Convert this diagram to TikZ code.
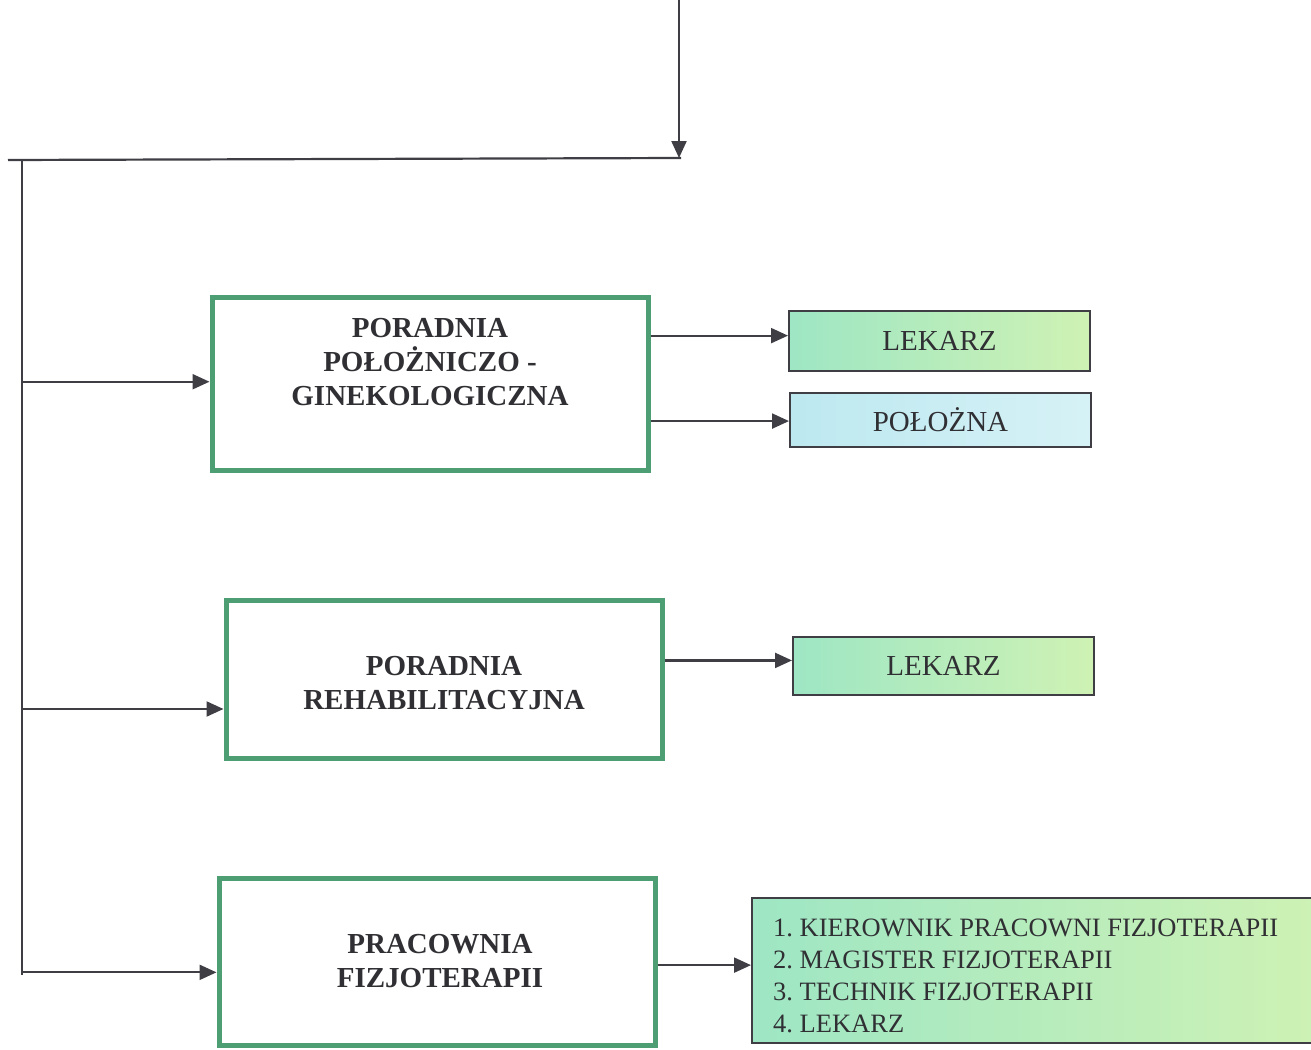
\documentclass[tikz,border=0pt]{standalone}
\usepackage{fontspec}
\setmainfont{Liberation Serif}
\usetikzlibrary{arrows.meta,calc}
\definecolor{boxgreen}{HTML}{4E9E74}
\definecolor{linegray}{HTML}{3E3E44}
\definecolor{txtgray}{HTML}{303034}
\definecolor{mintA}{HTML}{9EE6C4}
\definecolor{mintB}{HTML}{CFF2B4}
\definecolor{blueA}{HTML}{BDE8F0}
\definecolor{blueB}{HTML}{D6F2F6}
\tikzset{
  conn/.style={draw=linegray, line width=2.2pt},
  arr/.style={conn, -{Triangle[length=17pt,width=15pt]}},
  unitbox/.style={draw=boxgreen, line width=5pt, fill=white, minimum width=436pt, inner sep=0pt},
  unittext/.style={align=center, text=txtgray, font=\fontsize{29}{34}\selectfont\bfseries, inner sep=0pt},
  staffbox/.style={draw=linegray, line width=2pt, minimum width=301pt, inner sep=0pt,
    text=txtgray, font=\fontsize{29}{34}\selectfont, left color=mintA, right color=mintB},
}
\begin{document}
\begin{tikzpicture}[x=1pt,y=-1pt]
\useasboundingbox (0,0) rectangle (1311,1049);
\clip (0,0) rectangle (1311,1049);
% unit boxes
\node[unitbox, minimum height=173pt] (b1) at (430,383.5) {};
\node[unitbox, minimum height=158pt] (b2) at (444,679) {};
\node[unitbox, minimum height=167pt] (b3) at (437,961.5) {};
\node[unittext] (t1) at (430,362) {PORADNIA\\POŁOŻNICZO -\\GINEKOLOGICZNA};
\node[unittext] (t2) at (444,683) {PORADNIA\\REHABILITACYJNA};
\node[unittext] (t3) at (440,961.5) {PRACOWNIA\\FIZJOTERAPII};
% staff boxes
\node[staffbox, minimum height=60pt] (l1) at (939.5,341) {LEKARZ};
\node[staffbox, minimum height=54pt, left color=blueA, right color=blueB] (p1) at (940.5,420) {POŁOŻNA};
\node[staffbox, minimum height=58pt] (l2) at (943.5,666) {LEKARZ};
\node[staffbox, minimum width=578pt, minimum height=145pt] (lst) at (1041,970.5) {};
\node[anchor=west, align=left, inner sep=0pt, text=txtgray,
  font=\fontsize{26.5}{32}\selectfont\frenchspacing] (lsttext) at (773,975.5)
  {1. KIEROWNIK PRACOWNI FIZJOTERAPII\\2. MAGISTER FIZJOTERAPII\\3. TECHNIK FIZJOTERAPII\\4. LEKARZ};
% top connector
\coordinate (top) at (679,0);
\coordinate (hr) at (681,158);
\coordinate (hl) at (8,160);
\coordinate (trunk) at (22,160);
\coordinate (trunkend) at (22,975);
\draw[arr] (top) -- (top |- hr);
\draw[conn] (hl) -- (hr);
\draw[conn] (trunk) -- (trunkend);
% attachment points
\coordinate (b1in) at ($(b1.north west)!0.49!(b1.south west)$);
\coordinate (b2in) at ($(b2.north west)!0.684!(b2.south west)$);
\coordinate (b3in) at ($(b3.north west)!0.563!(b3.south west)$);
\coordinate (b1o1) at ($(b1.north east)!0.231!(b1.south east)$);
\coordinate (b1o2) at ($(b1.north east)!0.711!(b1.south east)$);
\coordinate (b2o) at ($(b2.north east)!0.386!(b2.south east)$);
\coordinate (b3o) at ($(b3.north east)!0.521!(b3.south east)$);
% branches
\draw[arr] (b1in -| trunk) -- (b1in);
\draw[arr] (b2in -| trunk) -- (b2in);
\draw[arr] (b3in -| trunk) -- (b3in);
\draw[arr] (b1o1) -- (b1o1 -| l1.west);
\draw[arr] (b1o2) -- (b1o2 -| p1.west);
\draw[arr] (b2o) -- (b2o -| l2.west);
\draw[arr] (b3o) -- (b3o -| lst.west);
\end{tikzpicture}
\end{document}
